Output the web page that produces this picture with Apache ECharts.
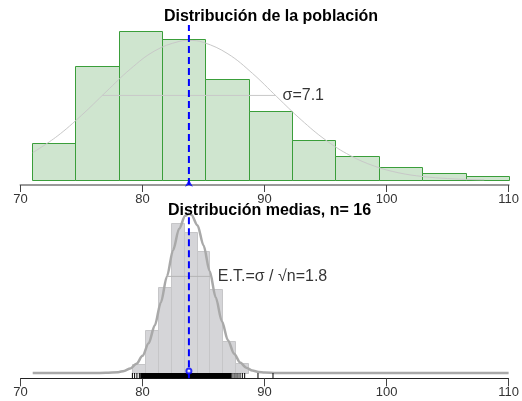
<!DOCTYPE html>
<html>
<head>
<meta charset="utf-8">
<script src="https://cdn.jsdelivr.net/npm/echarts@6/dist/echarts.min.js"></script>
<style>
html,body{margin:0;padding:0;background:#fff;}
#chart{width:522px;height:401px;}
</style>
</head>
<body>
<div id="chart"></div>
<script>
// ---------- data ----------
const xTicks = [70, 80, 90, 100, 110];
const popTitle = 'Distribución de la población';
const meansTitle = 'Distribución medias, n= 16';

// population histogram (density)
const popBinStart = 70.92;
const popBinWidth = 3.556;
const popDensity = [0.0149, 0.0459, 0.0601, 0.0567, 0.0406, 0.0278, 0.0163, 0.0098, 0.0055, 0.0031, 0.0017];

// population normal curve
const popCurveX = [71, 73, 75, 77, 79, 81, 83, 83.8, 85, 87, 89, 91, 93, 95, 97, 99, 101, 103, 105, 107, 108];
const popCurveY = [0.0111, 0.0177, 0.0261, 0.0355, 0.0447, 0.0520, 0.0558, 0.0562, 0.0554, 0.0508, 0.0430, 0.0336, 0.0243, 0.0162, 0.0100, 0.0057, 0.0030, 0.0015, 0.0007, 0.0003, 0.0002];

const popMean = 83.8;
const popSigma = 7.1;
const sigmaLine = [76.7, 90.9];
const sigmaLineY = 0.0341;

// sample means histogram (density)
const meanBinStart = 79.15;
const meanBinWidth = 1.055;
const meanDensity = [0.0125, 0.0598, 0.1200, 0.2082, 0.1957, 0.1697, 0.1168, 0.0449, 0.0135];

// sampling distribution curve
const meanCurveX = [71, 76, 77, 78, 78.5, 79, 79.5, 80, 80.5, 81, 81.5, 82, 82.5, 83, 83.5, 83.8, 84, 84.5, 85, 85.5, 86, 86.5, 87, 87.5, 88, 88.5, 89, 89.5, 90, 91, 92, 110];
const meanCurveY = [0, 0, 0.0002, 0.0012, 0.0029, 0.0063, 0.0128, 0.0239, 0.0413, 0.0661, 0.0980, 0.1344, 0.1708, 0.2008, 0.2186, 0.2216, 0.2203, 0.2055, 0.1775, 0.1419, 0.1050, 0.0720, 0.0456, 0.0268, 0.0146, 0.0073, 0.0034, 0.0015, 0.0006, 0.0001, 0, 0];

const stdError = 1.8;
const seLine = [82.0, 85.6];
const seLineY = 0.1344;

// rug of sample means (sparse marks at the ends, dense band in the middle)
const rugSparse = [79.17, 79.35, 79.54, 79.74, 87.33, 87.50, 87.66, 87.82, 87.99, 88.18, 88.37, 89.46, 90.69];
const rugDense = [79.9, 80.0, 80.1, 80.2, 80.3, 80.4, 80.5, 80.6, 80.7, 80.8, 80.9,
  81.0, 81.1, 81.2, 81.3, 81.4, 81.5, 81.6, 81.7, 81.8, 81.9,
  82.0, 82.1, 82.2, 82.3, 82.4, 82.5, 82.6, 82.7, 82.8, 82.9,
  83.0, 83.1, 83.2, 83.3, 83.4, 83.5, 83.6, 83.7, 83.8, 83.9,
  84.0, 84.1, 84.2, 84.3, 84.4, 84.5, 84.6, 84.7, 84.8, 84.9,
  85.0, 85.1, 85.2, 85.3, 85.4, 85.5, 85.6, 85.7, 85.8, 85.9,
  86.0, 86.1, 86.2, 86.3, 86.4, 86.5, 86.6, 86.7, 86.8, 86.9,
  87.0, 87.1, 87.2];

// ---------- build ----------
const topMin = -0.00189, topMax = 0.0624;
const botMin = -0.00737, botMax = 0.2216;

function bins(start, width, vals) {
  return vals.map((v, i) => [start + i * width, start + (i + 1) * width, v]);
}
function zip(xs, ys) { return xs.map((x, i) => [x, ys[i]]); }

function histRender(fill, stroke) {
  return function (params, api) {
    const p0 = api.coord([api.value(0), api.value(2)]);
    const p1 = api.coord([api.value(1), 0]);
    const x0 = Math.round(p0[0]) + 0.5, x1 = Math.round(p1[0]) + 0.5;
    const y0 = Math.round(p0[1]) + 0.5, y1 = Math.round(p1[1]) + 0.5;
    return {
      type: 'rect',
      shape: { x: x0, y: y0, width: x1 - x0, height: y1 - y0 },
      style: { fill: fill, stroke: stroke, lineWidth: 1 }
    };
  };
}

function rugRender(width) {
  return function (params, api) {
    const a = api.coord([api.value(0), 0]);
    const b = api.coord([api.value(0), botMin]);
    return { type: 'line', shape: { x1: a[0], y1: a[1], x2: b[0], y2: b[1] },
      style: { stroke: '#000', lineWidth: width } };
  };
}

const font = 'Liberation Sans, Arial, sans-serif';

function xAxisCfg(idx, lineColor, lineWidth, tickLen, margin) {
  return {
    type: 'value', gridIndex: idx, min: xTicks[0], max: xTicks[xTicks.length - 1],
    interval: xTicks[1] - xTicks[0],
    axisLine: { onZero: false, lineStyle: { color: lineColor, width: lineWidth } },
    axisTick: { length: tickLen, lineStyle: { color: '#444' } },
    axisLabel: { margin: margin, color: '#333', fontSize: 13, fontFamily: font, showMinLabel: true, showMaxLabel: true },
    splitLine: { show: false }
  };
}

const chart = echarts.init(document.getElementById('chart'));
chart.setOption({
  animation: false,
  backgroundColor: '#fff',
  grid: [
    { left: 20.5, right: 13, top: 25, bottom: 216 },
    { left: 20.5, right: 13, top: 213.7, bottom: 22.7 }
  ],
  xAxis: [
    xAxisCfg(0, '#999', 2, 7, 8),
    xAxisCfg(1, '#222', 1, 8, 8)
  ],
  yAxis: [
    { type: 'value', gridIndex: 0, min: topMin, max: topMax, show: false },
    { type: 'value', gridIndex: 1, min: botMin, max: botMax, show: false }
  ],
  series: [
    // --- top panel ---
    {
      type: 'custom', xAxisIndex: 0, yAxisIndex: 0,
      data: bins(popBinStart, popBinWidth, popDensity),
      encode: { x: [0, 1], y: 2 },
      renderItem: histRender('#cfe5cf', '#3a9e3a'), z: 1
    },
    {
      type: 'line', xAxisIndex: 0, yAxisIndex: 0, data: zip(popCurveX, popCurveY),
      smooth: 0.4, symbol: 'none', lineStyle: { color: '#c8c8c8', width: 1 }, z: 2, silent: true
    },
    {
      type: 'line', xAxisIndex: 0, yAxisIndex: 0,
      data: [[sigmaLine[0], sigmaLineY], [sigmaLine[1], sigmaLineY]],
      symbol: 'none', lineStyle: { color: '#c8c8c8', width: 1 }, z: 2
    },
    {
      type: 'scatter', xAxisIndex: 0, yAxisIndex: 0,
      data: [[sigmaLine[1], sigmaLineY]], symbolSize: 0,
      label: { show: true, position: 'right', distance: 7, formatter: 'σ=' + popSigma.toFixed(1),
        color: '#000', fontSize: 16, fontFamily: font }, z: 5
    },
    {
      type: 'line', xAxisIndex: 0, yAxisIndex: 0,
      data: [[popMean, topMin], [popMean, topMax]],
      symbol: 'none', lineStyle: { color: '#0000ff', width: 2, type: [7, 4] }, z: 4
    },
    {
      type: 'scatter', xAxisIndex: 0, yAxisIndex: 0,
      data: [[popMean, 0]], symbol: 'arrow', symbolSize: [6, 7], symbolOffset: [0, -0.5],
      itemStyle: { color: '#0000ff' }, z: 5
    },
    // --- bottom panel ---
    {
      type: 'custom', xAxisIndex: 1, yAxisIndex: 1,
      data: bins(meanBinStart, meanBinWidth, meanDensity),
      encode: { x: [0, 1], y: 2 },
      renderItem: histRender('#d5d5d8', '#c6c6c8'), z: 1
    },
    {
      type: 'line', xAxisIndex: 1, yAxisIndex: 1, data: zip(meanCurveX, meanCurveY),
      smooth: 0.3, smoothMonotone: 'x', symbol: 'none', clip: false,
      lineStyle: { color: '#a9a9a9', width: 2.5 }, z: 2
    },
    {
      type: 'line', xAxisIndex: 1, yAxisIndex: 1,
      data: [[seLine[0], seLineY], [seLine[1], seLineY]],
      symbol: 'none', lineStyle: { color: '#b4b4b4', width: 1 }, z: 2
    },
    {
      type: 'scatter', xAxisIndex: 1, yAxisIndex: 1,
      data: [[seLine[1], seLineY]], symbolSize: 0,
      label: { show: true, position: 'right', distance: 7, formatter: 'E.T.=σ / √n=' + stdError.toFixed(1),
        color: '#000', fontSize: 16, fontFamily: font }, z: 5
    },
    {
      type: 'custom', xAxisIndex: 1, yAxisIndex: 1,
      data: rugSparse.map(v => [v]), encode: { x: 0 },
      renderItem: rugRender(1), z: 3
    },
    {
      type: 'custom', xAxisIndex: 1, yAxisIndex: 1,
      data: rugDense.map(v => [v]), encode: { x: 0 },
      renderItem: rugRender(2.2), z: 3
    },
    {
      type: 'line', xAxisIndex: 1, yAxisIndex: 1,
      data: [[popMean, botMin], [popMean, botMax]],
      symbol: 'none', lineStyle: { color: '#0000ff', width: 2, type: [7, 4] }, z: 4
    },
    {
      type: 'scatter', xAxisIndex: 1, yAxisIndex: 1,
      data: [[popMean, 0]], symbol: 'emptyCircle', symbolSize: 5, symbolOffset: [0, -2],
      itemStyle: { color: '#0000ff', borderWidth: 1.3 }, z: 5
    }
  ],
  graphic: [
    { type: 'text', z: 100, style: { x: 271, y: 17, text: popTitle, textAlign: 'center', textVerticalAlign: 'middle',
      font: 'bold 16px Liberation Sans, Arial, sans-serif', fill: '#000' } },
    { type: 'text', z: 100, style: { x: 269.5, y: 211, text: meansTitle, textAlign: 'center', textVerticalAlign: 'middle',
      font: 'bold 16px Liberation Sans, Arial, sans-serif', fill: '#000' } }
  ]
});
</script>
</body>
</html>
